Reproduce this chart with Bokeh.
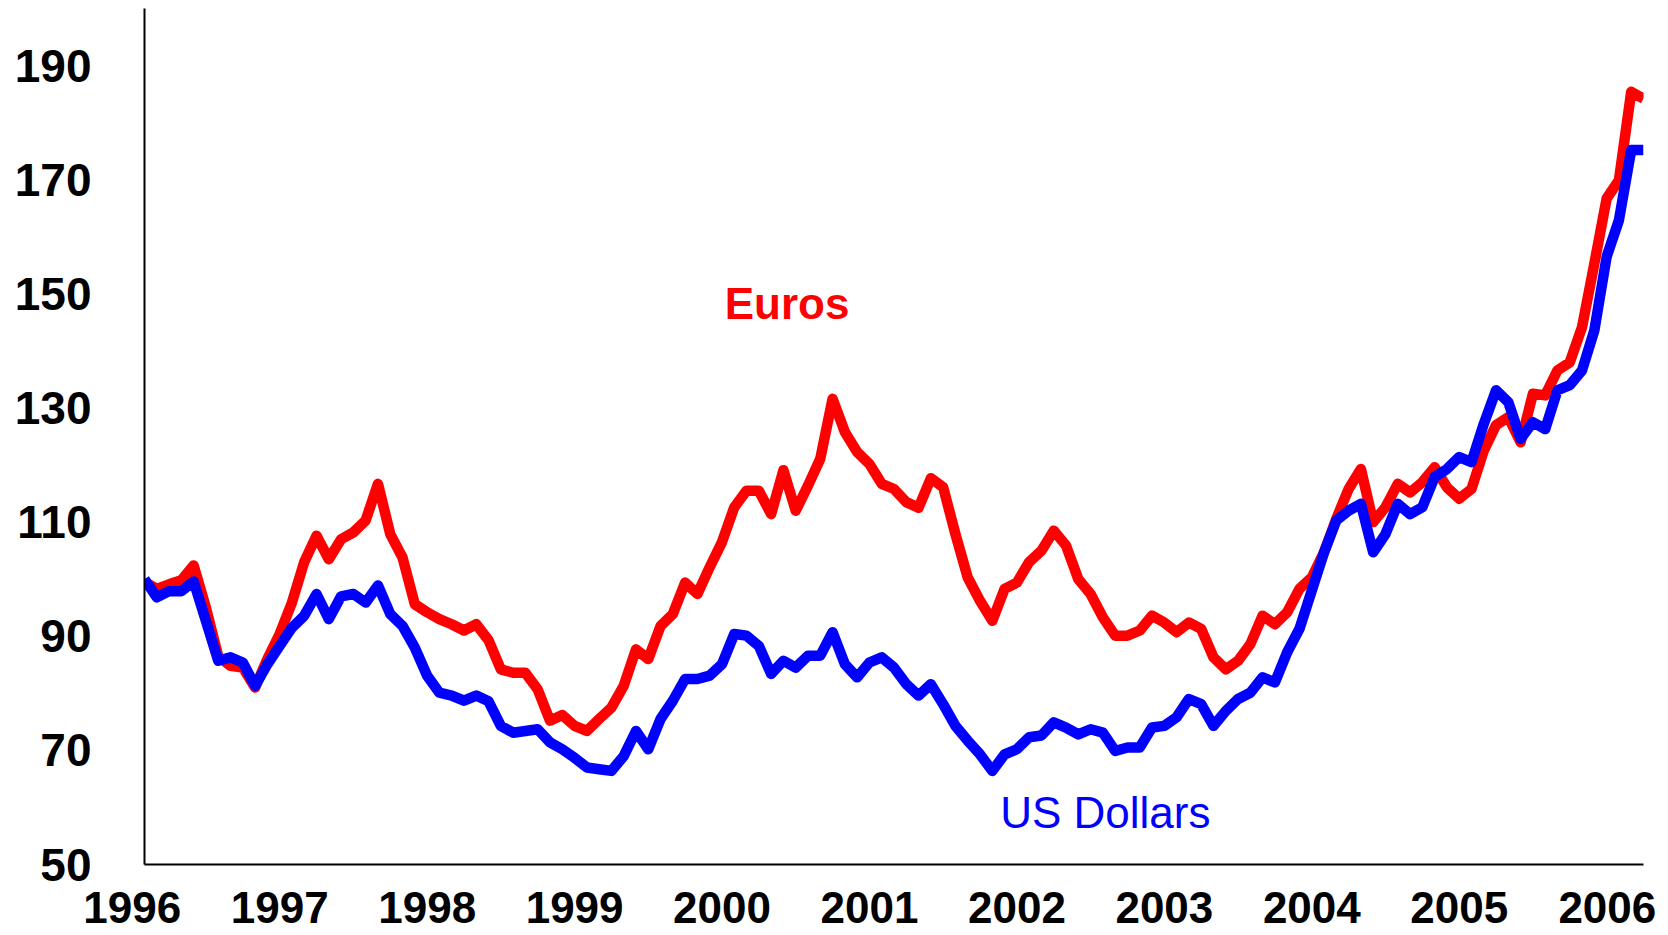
from bokeh.plotting import figure
from bokeh.models import Range1d, FixedTicker, Label
from bokeh.embed import file_html
from bokeh.resources import INLINE

# Monthly index, Jan 1996 .. Mar 2006 (1996 = 100)
euros = [
    99.5, 98.3, 99.1, 99.8, 102.4, 95.0, 86.5, 84.8, 84.5, 81.0,
    86.0, 90.4, 95.9, 103.0, 107.6, 103.5, 107.0, 108.2, 110.3, 116.7,
    107.9, 103.8, 95.6, 94.2, 93.0, 92.1, 91.0, 92.1, 89.3, 84.2,
    83.6, 83.6, 80.7, 75.2, 76.2, 74.3, 73.4, 75.5, 77.5, 81.3,
    87.7, 86.0, 91.8, 93.9, 99.4, 97.4, 102.1, 106.5, 112.6, 115.5,
    115.5, 111.4, 119.1, 112.0, 116.4, 121.1, 131.6, 125.8, 122.3, 120.2,
    116.7, 115.8, 113.5, 112.5, 117.7, 116.1, 107.9, 100.3, 96.2, 92.7,
    98.3, 99.4, 103.0, 105.0, 108.5, 105.9, 100.0, 97.4, 93.3, 90.1,
    90.1, 91.0, 93.6, 92.4, 90.7, 92.4, 91.3, 86.3, 84.2, 85.7,
    88.6, 93.6, 92.1, 94.2, 98.3, 100.3, 104.7, 110.6, 115.8, 119.3,
    110.0, 112.6, 116.7, 115.2, 117.0, 119.6, 116.1, 114.1, 115.8, 122.5,
    127.0, 128.4, 124.0, 132.5, 132.2, 136.6, 138.0, 144.2, 155.3, 166.7,
    169.9, 185.4, 184.2,
]

dollars = [
    100.0, 96.8, 97.9, 97.9, 99.6, 92.7, 85.7, 86.3, 85.4, 81.3,
    85.1, 88.3, 91.5, 93.6, 97.4, 93.0, 97.0, 97.4, 95.9, 98.9,
    93.9, 91.8, 88.0, 83.1, 80.1, 79.6, 78.7, 79.6, 78.6, 74.3,
    73.1, 73.4, 73.7, 71.4, 70.2, 68.7, 67.0, 66.7, 66.4, 69.0,
    73.4, 70.2, 75.5, 78.7, 82.5, 82.5, 83.1, 85.1, 90.4, 90.1,
    88.3, 83.4, 85.7, 84.5, 86.6, 86.6, 90.7, 85.1, 82.8, 85.4,
    86.3, 84.5, 81.6, 79.6, 81.6, 78.1, 74.3, 71.7, 69.3, 66.4,
    69.3, 70.2, 72.3, 72.6, 74.9, 74.0, 72.8, 73.7, 73.1, 69.9,
    70.5, 70.5, 74.0, 74.3, 75.8, 79.0, 78.1, 74.3, 76.9, 79.0,
    80.1, 82.8, 81.9, 87.2, 91.3, 98.0, 104.7, 110.3, 112.0, 113.2,
    104.7, 107.9, 113.2, 111.4, 112.6, 117.9, 119.3, 121.4, 120.5, 127.2,
    133.1, 131.0, 124.6, 127.5, 126.3, 133.1, 134.0, 136.6, 143.6, 156.5,
    162.9, 175.2, 175.2,
]

months = list(range(len(euros)))
years = [1996, 1997, 1998, 1999, 2000, 2001, 2002, 2003, 2004, 2005, 2006]
y_ticks = [50, 70, 90, 110, 130, 150, 170, 190]

FONT = "Liberation Sans"
NBSP = "\u00a0"

p = figure(
    width=1668, height=935,
    output_backend="svg", toolbar_location=None,
    x_range=Range1d(0, len(months) - 1), y_range=Range1d(50, 200),
    min_border_left=144, min_border_right=25,
    min_border_top=8, min_border_bottom=71,
)
p.outline_line_color = None
p.xgrid.visible = False
p.ygrid.visible = False
p.background_fill_color = "white"
p.border_fill_color = "white"

p.line(months, euros, line_color="#FF0000", line_width=10.5,
       line_join="round", line_cap="butt")
p.line(months, dollars, line_color="#0000FF", line_width=10.5,
       line_join="round", line_cap="butt")

# y axis
p.yaxis.ticker = FixedTicker(ticks=y_ticks)
p.yaxis.major_label_text_font = FONT
p.yaxis.major_label_text_font_style = "bold"
p.yaxis.major_label_text_font_size = "46px"
p.yaxis.major_label_text_color = "black"
p.yaxis.major_tick_out = 0
p.yaxis.major_tick_in = 0
p.yaxis.major_label_standoff = 53
p.yaxis.major_tick_line_color = None
p.yaxis.minor_tick_line_color = None
p.yaxis.axis_line_width = 2
p.yaxis.axis_line_color = "black"

# x axis: one label per January; the category labels sit slightly left of
# the month they name, so trailing no-break spaces shift them left.
year_ticks = [(y - years[0]) * 12 for y in years]
overrides = {t: str(y) + NBSP * 2 for t, y in zip(year_ticks, years)}
overrides[year_ticks[-1]] = str(years[-1]) + NBSP
p.xaxis.ticker = FixedTicker(ticks=year_ticks)
p.xaxis.major_label_overrides = overrides
p.xaxis.major_label_text_font = FONT
p.xaxis.major_label_text_font_style = "bold"
p.xaxis.major_label_text_font_size = "44px"
p.xaxis.major_label_text_color = "black"
p.xaxis.major_tick_out = 0
p.xaxis.major_tick_in = 0
p.xaxis.major_label_standoff = 18
p.xaxis.major_tick_line_color = None
p.xaxis.minor_tick_line_color = None
p.xaxis.axis_line_width = 2
p.xaxis.axis_line_color = "black"

p.add_layout(Label(
    x=52.3, y=148.3, text="Euros",
    text_align="center", text_baseline="middle",
    text_font=FONT, text_font_style="bold", text_font_size="44px",
    text_color="#FF0000",
))
p.add_layout(Label(
    x=78.2, y=59.1, text="US Dollars",
    text_align="center", text_baseline="middle",
    text_font=FONT, text_font_style="normal", text_font_size="44px",
    text_color="#0000FF",
))

open("out.html", "w").write(file_html(p, INLINE))
